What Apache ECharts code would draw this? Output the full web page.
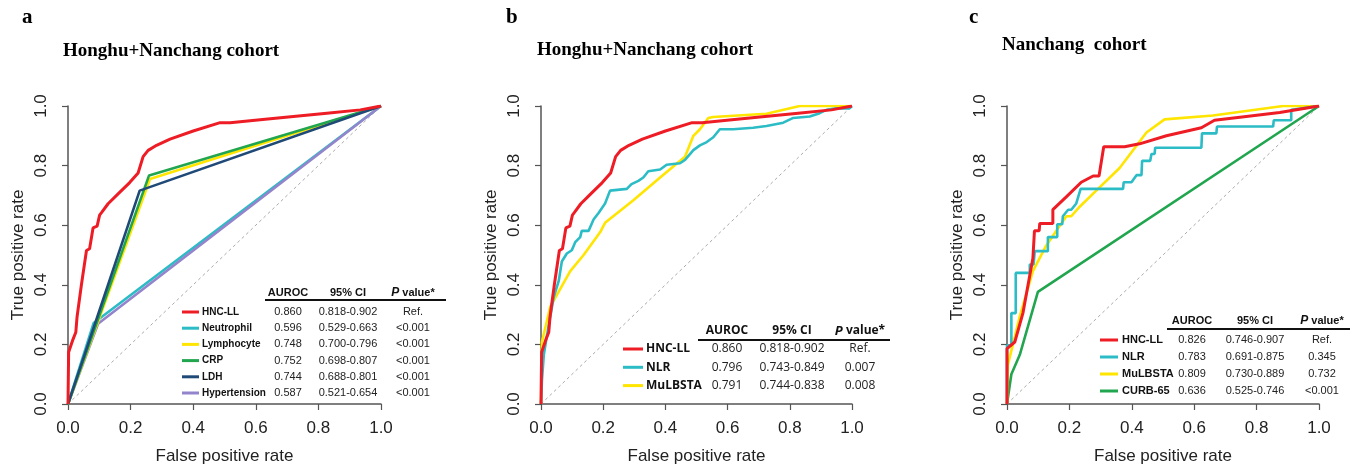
<!DOCTYPE html>
<html>
<head>
<meta charset="utf-8">
<title>ROC curves</title>
<script src="https://cdn.jsdelivr.net/npm/echarts@6/dist/echarts.min.js"></script>
<style>
  html, body { margin: 0; padding: 0; background: #ffffff; }
  #main { width: 1353px; height: 470px; }
</style>
</head>
<body>
<div id="main"></div>
<script>
// ---- data ----
const diagonal = [[0, 0], [1, 1]];

// panel a + b : Honghu+Nanchang cohort
const hncllAll = [[0,0],[0.002,0.174],[0.016,0.217],[0.025,0.241],[0.029,0.293],[0.043,0.401],[0.059,0.515],[0.069,0.521],[0.080,0.591],[0.093,0.597],[0.101,0.634],[0.107,0.642],[0.128,0.672],[0.160,0.705],[0.197,0.743],[0.224,0.775],[0.240,0.830],[0.256,0.851],[0.283,0.868],[0.326,0.889],[0.400,0.916],[0.486,0.944],[0.518,0.944],[0.614,0.954],[0.720,0.965],[0.827,0.976],[0.934,0.987],[1,1]];
const neutrophil = [[0,0],[0.082,0.272],[1,1]];
const lymphocyte = [[0,0],[0.262,0.755],[1,1]];
const crp = [[0,0],[0.259,0.767],[1,1]];
const ldh = [[0,0],[0.229,0.716],[1,1]];
const hypertension = [[0,0],[0.096,0.269],[1,1]];

const nlrAll = [[0,0],[0.003,0.078],[0.009,0.165],[0.019,0.229],[0.041,0.359],[0.057,0.413],[0.067,0.478],[0.083,0.505],[0.099,0.516],[0.110,0.543],[0.126,0.560],[0.131,0.581],[0.153,0.581],[0.169,0.619],[0.185,0.641],[0.206,0.673],[0.222,0.716],[0.276,0.722],[0.291,0.738],[0.313,0.749],[0.329,0.760],[0.345,0.781],[0.383,0.787],[0.404,0.803],[0.447,0.808],[0.463,0.819],[0.490,0.852],[0.511,0.868],[0.533,0.879],[0.554,0.895],[0.575,0.922],[0.618,0.922],[0.682,0.927],[0.725,0.933],[0.779,0.944],[0.811,0.960],[0.864,0.965],[0.896,0.976],[0.918,0.987],[0.950,0.992],[0.992,0.992],[1,1]];
const mulbstaAll = [[0,0],[0.003,0.208],[0.030,0.327],[0.094,0.446],[0.137,0.500],[0.190,0.576],[0.206,0.608],[0.297,0.684],[0.383,0.760],[0.463,0.830],[0.490,0.900],[0.511,0.922],[0.538,0.960],[0.554,0.963],[0.725,0.974],[0.832,1.0],[1,1]];

// panel c : Nanchang cohort
const hncllNc = [[0,0],[0,0.186],[0.025,0.208],[0.051,0.305],[0.083,0.489],[0.088,0.581],[0.103,0.581],[0.105,0.606],[0.147,0.606],[0.147,0.652],[0.190,0.695],[0.238,0.744],[0.276,0.765],[0.295,0.765],[0.310,0.863],[0.377,0.863],[0.425,0.873],[0.511,0.900],[0.623,0.927],[0.665,0.952],[0.767,0.965],[0.874,0.978],[1,1]];
const nlrNc = [[0,0],[0,0.197],[0.014,0.197],[0.014,0.305],[0.028,0.305],[0.028,0.440],[0.073,0.440],[0.073,0.468],[0.085,0.468],[0.089,0.513],[0.131,0.513],[0.131,0.560],[0.161,0.560],[0.161,0.603],[0.177,0.603],[0.179,0.630],[0.196,0.652],[0.206,0.652],[0.222,0.673],[0.236,0.722],[0.372,0.722],[0.374,0.744],[0.399,0.744],[0.415,0.768],[0.431,0.768],[0.433,0.816],[0.459,0.816],[0.463,0.839],[0.473,0.839],[0.475,0.860],[0.623,0.860],[0.625,0.908],[0.671,0.908],[0.673,0.931],[0.853,0.931],[0.855,0.952],[0.911,0.952],[0.911,0.987],[1,1]];
const mulbstaNc = [[0,0],[0.003,0.132],[0.041,0.294],[0.083,0.446],[0.126,0.532],[0.190,0.630],[0.206,0.630],[0.233,0.662],[0.286,0.716],[0.361,0.792],[0.447,0.911],[0.505,0.955],[0.660,0.968],[0.885,1.0],[1,1]];
const curb65Nc = [[0,0],[0.014,0.100],[0.041,0.165],[0.099,0.376],[1,1]];

// tables
const namesA = ['HNC-LL', 'Neutrophil', 'Lymphocyte', 'CRP', 'LDH', 'Hypertension'];
const aurocA = ['0.860', '0.596', '0.748', '0.752', '0.744', '0.587'];
const ciA = ['0.818-0.902', '0.529-0.663', '0.700-0.796', '0.698-0.807', '0.688-0.801', '0.521-0.654'];
const pA = ['Ref.', '<0.001', '<0.001', '<0.001', '<0.001', '<0.001'];

const namesB = ['HNC-LL', 'NLR', 'MuLBSTA'];
const aurocB = ['0.860', '0.796', '0.791'];
const ciB = ['0.818-0.902', '0.743-0.849', '0.744-0.838'];
const pB = ['Ref.', '0.007', '0.008'];

const namesC = ['HNC-LL', 'NLR', 'MuLBSTA', 'CURB-65'];
const aurocC = ['0.826', '0.783', '0.809', '0.636'];
const ciC = ['0.746-0.907', '0.691-0.875', '0.730-0.889', '0.525-0.746'];
const pC = ['Ref.', '0.345', '0.732', '<0.001'];

// ---- styling ----
const RED = '#ee1c25', CYAN = '#2bbcc6', YELLOW = '#ffe500', GREEN = '#21a64f', NAVY = '#1f4a78', PURPLE = '#9484cc';
const colorsA = [RED, CYAN, YELLOW, GREEN, NAVY, PURPLE];
const colorsB = [RED, CYAN, YELLOW];
const colorsC = [RED, CYAN, YELLOW, GREEN];
const AXIS = '#555555';
const SANS = 'Liberation Sans, Arial, sans-serif';
const SERIF = 'Liberation Serif, Times New Roman, serif';

const grids = [
  { left: 68, top: 106, width: 313, height: 308 },
  { left: 541, top: 106, width: 311, height: 308 },
  { left: 1007, top: 106, width: 312, height: 308 }
];

const chart = echarts.init(document.getElementById('main'));

function axisCommon() {
  return {
    type: 'value', min: 0, max: 1, interval: 0.2,
    axisLine: { show: true, onZero: false, lineStyle: { color: AXIS, width: 1.5 } },
    axisTick: { show: true, length: 6, lineStyle: { color: AXIS, width: 1.2 } },
    splitLine: { show: false },
    nameTextStyle: { fontFamily: SANS, fontSize: 17, color: '#222' }
  };
}

const xAxes = [], yAxes = [];
grids.forEach(function (g, i) {
  xAxes.push(Object.assign(axisCommon(), {
    gridIndex: i, name: 'False positive rate', nameLocation: 'middle', nameGap: 44,
    axisLabel: { fontFamily: SANS, fontSize: 17, color: '#222', margin: 16,
      formatter: function (v) { return v.toFixed(1); } }
  }));
  yAxes.push(Object.assign(axisCommon(), {
    gridIndex: i, name: 'True positive rate', nameLocation: 'middle', nameGap: 41,
    axisLabel: { fontFamily: SANS, fontSize: 17, color: '#222', margin: 18, rotate: 90,
      formatter: function (v) { return v.toFixed(1); } }
  }));
});

function rocLine(idx, data, color, z, w) {
  return {
    type: 'line', xAxisIndex: idx, yAxisIndex: idx, data: data,
    showSymbol: false, symbol: 'none', z: z, animation: false,
    lineStyle: { color: color, width: w || 2.6 }
  };
}

const series = [];
[0, 1, 2].forEach(function (i) {
  series.push({
    type: 'line', xAxisIndex: i, yAxisIndex: i, data: diagonal, symbol: 'none', z: 1,
    lineStyle: { color: '#aaaaaa', width: 1, type: [3, 3] }, animation: false
  });
});
// panel a
series.push(rocLine(0, neutrophil, CYAN, 2));
series.push(rocLine(0, hypertension, PURPLE, 3));
series.push(rocLine(0, lymphocyte, YELLOW, 4));
series.push(rocLine(0, crp, GREEN, 5));
series.push(rocLine(0, ldh, NAVY, 6));
series.push(rocLine(0, hncllAll, RED, 7, 3));
// panel b
series.push(rocLine(1, mulbstaAll, YELLOW, 3));
series.push(rocLine(1, nlrAll, CYAN, 4));
series.push(rocLine(1, hncllAll, RED, 5, 3));
// panel c
series.push(rocLine(2, curb65Nc, GREEN, 2));
series.push(rocLine(2, mulbstaNc, YELLOW, 3));
series.push(rocLine(2, nlrNc, CYAN, 4));
series.push(rocLine(2, hncllNc, RED, 5, 3));

// table legends drawn as graphic text
function table(t, names, colors, auroc, ci, pv) {
  const els = [];
  const bold = 'bold ' + t.size + 'px ' + t.font;
  const nameFont = 'bold ' + (t.nameSize || t.size) + 'px ' + t.font;
  const reg = t.size + 'px ' + t.font;
  els.push({ type: 'text', x: t.cx[0], y: t.headY, style: { text: 'AUROC', font: bold, fill: '#111', align: 'center', verticalAlign: 'middle' } });
  els.push({ type: 'text', x: t.cx[1], y: t.headY, style: { text: '95% CI', font: bold, fill: '#111', align: 'center', verticalAlign: 'middle' } });
  els.push({ type: 'text', x: t.cx[2], y: t.headY, style: {
    text: '{i|P} value*', align: 'center', verticalAlign: 'middle', font: bold, fill: '#111',
    rich: { i: { fontStyle: 'italic', fontWeight: 'bold', fontSize: t.size + 1, fontFamily: t.font, fill: '#111' } }
  } });
  els.push({ type: 'line', shape: { x1: t.lineX[0], y1: t.lineY, x2: t.lineX[1], y2: t.lineY }, style: { stroke: '#111', lineWidth: 1.8 } });
  names.forEach(function (n, k) {
    const y = t.rowY0 + k * t.rowH;
    els.push({ type: 'line', shape: { x1: t.swX[0], y1: y, x2: t.swX[1], y2: y }, style: { stroke: colors[k], lineWidth: 3 } });
    els.push({ type: 'text', x: t.nameX, y: y, style: { text: n, font: nameFont, fill: '#111', align: 'left', verticalAlign: 'middle' } });
    els.push({ type: 'text', x: t.cx[0], y: y, style: { text: auroc[k], font: reg, fill: '#222', align: 'center', verticalAlign: 'middle' } });
    els.push({ type: 'text', x: t.cx[1], y: y, style: { text: ci[k], font: reg, fill: '#222', align: 'center', verticalAlign: 'middle' } });
    els.push({ type: 'text', x: t.cx[2], y: y, style: { text: pv[k], font: reg, fill: '#222', align: 'center', verticalAlign: 'middle' } });
  });
  return els;
}

let graphics = [];
graphics = graphics.concat(table({ font: SANS, size: 11, nameSize: 10, cx: [288, 348, 413], headY: 293, lineX: [265, 446], lineY: 300, rowY0: 312, rowH: 16.2, swX: [182, 199], nameX: 202 },
  namesA, colorsA, aurocA, ciA, pA));
graphics = graphics.concat(table({ font: 'Open Sans, sans-serif', size: 12, cx: [727, 792, 860], headY: 331, lineX: [698, 890], lineY: 340, rowY0: 349, rowH: 18.3, swX: [623, 643], nameX: 646 },
  namesB, colorsB, aurocB, ciB, pB));
graphics = graphics.concat(table({ font: SANS, size: 11, cx: [1192, 1255, 1322], headY: 321, lineX: [1167, 1350], lineY: 329, rowY0: 340, rowH: 17, swX: [1100, 1118], nameX: 1122 },
  namesC, colorsC, aurocC, ciC, pC));

// panel letters and titles
const panelLetters = ['a', 'b', 'c'];
const panelTitles = ['Honghu+Nanchang cohort', 'Honghu+Nanchang cohort', 'Nanchang  cohort'];
const letterX = [22, 506, 969], titleX = [63, 537, 1002], titleY = [51, 50, 45];
panelLetters.forEach(function (l, i) {
  graphics.push({ type: 'text', x: letterX[i], y: 18, style: { text: l, font: 'bold 21px ' + SERIF, fill: '#000', verticalAlign: 'middle' } });
  graphics.push({ type: 'text', x: titleX[i], y: titleY[i], style: { text: panelTitles[i], font: 'bold 19px ' + SERIF, fill: '#000', verticalAlign: 'middle' } });
});

chart.setOption({
  backgroundColor: '#ffffff',
  animation: false,
  grid: grids,
  xAxis: xAxes,
  yAxis: yAxes,
  series: series,
  graphic: graphics
});
</script>
</body>
</html>
